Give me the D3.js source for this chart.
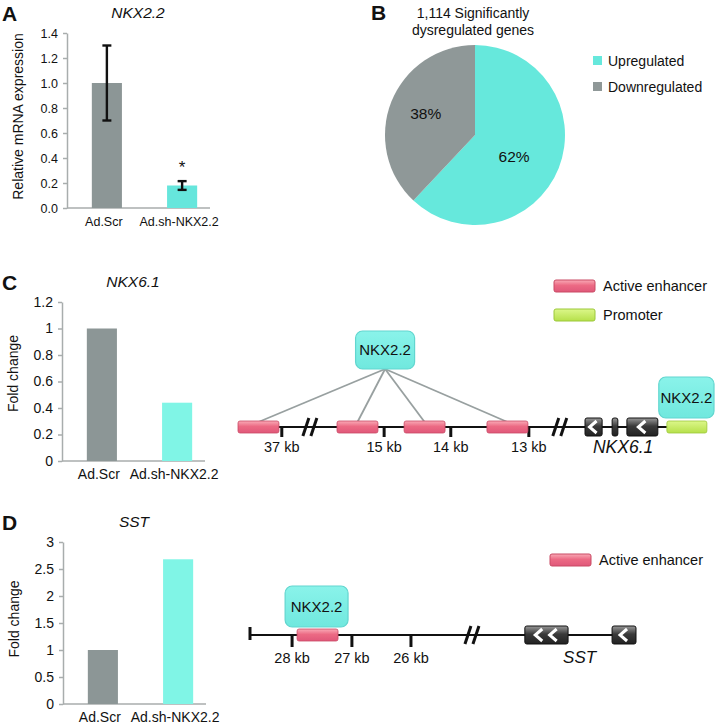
<!DOCTYPE html>
<html>
<head>
<meta charset="utf-8">
<script src="https://cdn.jsdelivr.net/npm/d3@7"></script>
<style>
  body { margin: 0; background: #fff; }
  svg text { font-family: "Liberation Sans", Arial, sans-serif; fill: #111; }
  .panel { font-weight: bold; font-size: 21px; }
</style>
</head>
<body>
<svg id="fig" width="718" height="725"></svg>
<script>
// ---- data ----
var barCats = ["Ad.Scr", "Ad.sh-NKX2.2"];
var aValues = [1.0, 0.18];
var aErrors = [0.30, 0.035];
var aTicks = [0, 0.2, 0.4, 0.6, 0.8, 1.0, 1.2, 1.4];

var pieLabels = ["Upregulated", "Downregulated"];
var pieValues = [62, 38];

var cValues = [1.0, 0.44];
var cTicks = [0, 0.2, 0.4, 0.6, 0.8, 1, 1.2];

var dValues = [1.0, 2.68];
var dTicks = [0, 0.5, 1, 1.5, 2, 2.5, 3];

// schematic track positions (fraction of track length)
var cEnhancers = [0, 0.208, 0.349, 0.523];
var cKbLabels = ["37 kb", "15 kb", "14 kb", "13 kb"];
var cKbTicks = [0.092, 0.307, 0.447, 0.611];
var cBreaks = [0.151, 0.676];
var cExons = [[0.729, 0.765, 1], [0.786, 0.798, 0], [0.817, 0.882, 1]];

var dKbLabels = ["28 kb", "27 kb", "26 kb"];
var dKbTicks = [0.109, 0.264, 0.417];
var dEnhancers = [0.122];
var dBreaks = [0.575];
var dExons = [[0.712, 0.824, 2], [0.938, 1.0, 1]];

var gray = "#8c9696", cyanA = "#66e6dc", cyanB = "#80f5e6";

var svg = d3.select("#fig");
var defs = svg.append("defs");

function grad(id, stops) {
  var g = defs.append("linearGradient").attr("id", id)
    .attr("x1", 0).attr("y1", 0).attr("x2", 0).attr("y2", 1);
  stops.forEach(function(s) {
    g.append("stop").attr("offset", s[0]).attr("stop-color", s[1]);
  });
}
grad("enh", [[0, "#f9aab6"], [0.45, "#ec6a84"], [1, "#e0587a"]]);
grad("exon", [[0, "#9a9a9a"], [0.45, "#3a3a3a"], [1, "#222"]]);
grad("prom", [[0, "#dcf78a"], [1, "#b6e04a"]]);
grad("nkx", [[0, "#8af3ea"], [1, "#70e8de"]]);

// ---- generic bar chart ----
function barChart(opt) {
  var g = svg.append("g");
  var y = d3.scaleLinear().domain(opt.domain).range([opt.y0, opt.y1]);
  var x = d3.scaleBand().domain(barCats).range([opt.x0, opt.x0 + 155])
    .paddingInner(0.6).paddingOuter(0.33);

  var ax = g.append("g").attr("transform", "translate(" + opt.x0 + ",0)")
    .call(d3.axisLeft(y).tickValues(opt.ticks).tickFormat(opt.fmt).tickSize(4).tickSizeOuter(0).tickPadding(5));
  ax.select(".domain").attr("stroke", "#a8adad").attr("stroke-width", 1.5);
  ax.selectAll(".tick line").attr("stroke", "#a8adad").attr("stroke-width", 1.5);
  ax.selectAll(".tick text").style("fill", "#111").style("font-size", opt.fs + "px");

  g.append("line").attr("x1", opt.x0).attr("x2", opt.x0 + 143)
    .attr("y1", y(0)).attr("y2", y(0)).attr("stroke", "#a8adad").attr("stroke-width", 1.5);

  g.selectAll("rect.bar").data(opt.values).enter().append("rect")
    .attr("x", function(d, i) { return x(barCats[i]); })
    .attr("width", x.bandwidth())
    .attr("y", function(d) { return y(d); })
    .attr("height", function(d) { return y(0) - y(d); })
    .attr("fill", function(d, i) { return i === 0 ? gray : opt.cyan; });

  g.selectAll("text.xl").data(barCats).enter().append("text")
    .attr("x", function(d) { return x(d) + x.bandwidth() / 2 - 3; })
    .attr("y", y(0) + 18).attr("text-anchor", "middle").style("font-size", opt.fs + "px")
    .text(function(d) { return d; });

  g.append("text").attr("transform", "translate(" + (opt.x0 - 44) + "," + ((opt.y0 + opt.y1) / 2 - opt.ylift) + ") rotate(-90)")
    .attr("text-anchor", "middle").style("font-size", "14px").text(opt.ylabel);

  g.append("text").attr("x", opt.x0 + 71).attr("y", opt.y1 - 15).attr("text-anchor", "middle")
    .style("font-size", "15.5px").style("font-style", "italic").text(opt.title);

  g.append("text").attr("class", "panel").attr("x", 2).attr("y", opt.y1 - 12).text(opt.letter);

  if (opt.errors) {
    var eg = g.selectAll("g.err").data(opt.values).enter().append("g")
      .attr("stroke", "#111").attr("stroke-width", 2.4);
    eg.append("line")
      .attr("x1", function(d, i) { return x(barCats[i]) + x.bandwidth() / 2; })
      .attr("x2", function(d, i) { return x(barCats[i]) + x.bandwidth() / 2; })
      .attr("y1", function(d, i) { return y(d + opt.errors[i]); })
      .attr("y2", function(d, i) { return y(d - opt.errors[i]); });
    [1, -1].forEach(function(s) {
      eg.append("line")
        .attr("x1", function(d, i) { return x(barCats[i]) + x.bandwidth() / 2 - 4.5; })
        .attr("x2", function(d, i) { return x(barCats[i]) + x.bandwidth() / 2 + 4.5; })
        .attr("y1", function(d, i) { return y(d + s * opt.errors[i]); })
        .attr("y2", function(d, i) { return y(d + s * opt.errors[i]); });
    });
    g.append("text").attr("x", x(barCats[1]) + x.bandwidth() / 2)
      .attr("y", y(opt.values[1] + opt.errors[1]) - 8)
      .attr("text-anchor", "middle").style("font-size", "17px").text("*");
  }
}

barChart({ letter: "A", title: "NKX2.2", ylabel: "Relative mRNA expression", domain: [0, 1.4], ylift: 4, fs: 12.5,
  y0: 208, y1: 33, x0: 67, ticks: aTicks, fmt: d3.format(".1f"), values: aValues, errors: aErrors, cyan: cyanA });
barChart({ letter: "C", title: "NKX6.1", ylabel: "Fold change", domain: [0, 1.2], ylift: 8, fs: 14,
  y0: 461, y1: 302, x0: 62, ticks: cTicks, fmt: function(d) { return String(d); }, values: cValues, cyan: cyanB });
barChart({ letter: "D", title: "SST", ylabel: "Fold change", domain: [0, 3], ylift: 4, fs: 14,
  y0: 704, y1: 542, x0: 63, ticks: dTicks, fmt: function(d) { return String(d); }, values: dValues, cyan: cyanB });

// ---- pie (B) ----
var pg = svg.append("g").attr("transform", "translate(475,135)");
var pie = d3.pie().sort(null)(pieValues);
var arc = d3.arc().innerRadius(0).outerRadius(90);
var labR = [42, 53];
var pieColor = d3.scaleOrdinal().domain(pieLabels).range(["#66e8dc", "#8f9898"]);
pg.selectAll("path").data(pie).enter().append("path").attr("d", arc)
  .attr("fill", function(d, i) { return pieColor(pieLabels[i]); });
pg.selectAll("text").data(pie).enter().append("text")
  .attr("transform", function(d, i) {
    var la = d3.arc().innerRadius(labR[i]).outerRadius(labR[i]);
    return "translate(" + la.centroid(d) + ")";
  })
  .attr("text-anchor", "middle").attr("dy", function(d, i) { return i === 0 ? "0.75em" : "0.2em"; })
  .style("font-size", "15.5px")
  .text(function(d) { return d.value + "%"; });
svg.append("text").attr("class", "panel").attr("x", 371).attr("y", 20).text("B");
svg.append("text").attr("x", 473).attr("y", 18).attr("text-anchor", "middle").style("font-size", "14px").text("1,114 Significantly");
svg.append("text").attr("x", 473).attr("y", 35).attr("text-anchor", "middle").style("font-size", "14px").text("dysregulated genes");
var lg = svg.selectAll("g.pleg").data(pieLabels).enter().append("g")
  .attr("transform", function(d, i) { return "translate(593," + (56 + i * 26) + ")"; });
lg.append("rect").attr("width", 9).attr("height", 9).attr("fill", function(d) { return pieColor(d); });
lg.append("text").attr("x", 15).attr("y", 5).attr("dy", "0.35em").style("font-size", "14px").text(function(d) { return d; });

// ---- gene diagrams ----
function breakMark(g, x, y) {
  [-4, 4].forEach(function(o) {
    g.append("line").attr("x1", x + o - 3).attr("x2", x + o + 3).attr("y1", y + 9).attr("y2", y - 9)
      .attr("stroke", "#111").attr("stroke-width", 3);
  });
}
function enhancer(g, x0, x1, y) {
  g.append("rect").attr("x", x0).attr("y", y - 6).attr("width", x1 - x0).attr("height", 12)
    .attr("rx", 2).attr("fill", "url(#enh)").attr("stroke", "#c94a64").attr("stroke-width", 0.8);
}
function exon(g, x0, x1, y, nChev) {
  g.append("rect").attr("x", x0).attr("y", y - 9).attr("width", x1 - x0).attr("height", 18)
    .attr("rx", 2).attr("fill", "url(#exon)").attr("stroke", "#111").attr("stroke-width", 1);
  var w = x1 - x0;
  for (var k = 0; k < nChev; k++) {
    var cx = x0 + w * (k + 1) / (nChev + 1) - 1;
    g.append("polyline").attr("points", [[cx + 4, y - 6], [cx - 3, y], [cx + 4, y + 6]].join(" "))
      .attr("fill", "none").attr("stroke", "#fff").attr("stroke-width", 3);
  }
}
function nkxBox(g, x0, x1, y0, y1) {
  g.append("rect").attr("x", x0).attr("y", y0).attr("width", x1 - x0).attr("height", y1 - y0)
    .attr("rx", 7).attr("fill", "url(#nkx)").attr("stroke", "#62d6cf").attr("stroke-width", 1.2);
  g.append("text").attr("x", (x0 + x1) / 2).attr("y", (y0 + y1) / 2).attr("dy", "0.35em")
    .attr("text-anchor", "middle").style("font-size", "15px").text("NKX2.2");
}
function legendItem(g, x, y, fill, stroke, label) {
  g.append("rect").attr("x", x).attr("y", y - 6).attr("width", 41).attr("height", 12).attr("rx", 2)
    .attr("fill", fill).attr("stroke", stroke).attr("stroke-width", 1);
  g.append("text").attr("x", x + 49).attr("y", y).attr("dy", "0.35em").style("font-size", "14.5px").text(label);
}

// panel C diagram
var cg = svg.append("g");
var xc = d3.scaleLinear().domain([0, 1]).range([238, 714]);
var yc = 427;
var encW = xc(0.086) - xc(0);
cg.append("line").attr("x1", xc(0)).attr("x2", xc(0.901)).attr("y1", yc).attr("y2", yc).attr("stroke", "#111").attr("stroke-width", 2);
cBreaks.forEach(function(b) { breakMark(cg, xc(b), yc); });
cKbTicks.forEach(function(t, i) {
  cg.append("line").attr("x1", xc(t)).attr("x2", xc(t)).attr("y1", yc).attr("y2", yc + 10).attr("stroke", "#111").attr("stroke-width", 3);
  cg.append("text").attr("x", xc(t)).attr("y", yc + 25).attr("text-anchor", "middle").style("font-size", "14.5px").text(cKbLabels[i]);
});
// connectors from NKX2.2 to enhancers
var hub = [xc(0.309), 369];
cEnhancers.forEach(function(e) {
  cg.append("line").attr("x1", hub[0]).attr("y1", hub[1]).attr("x2", xc(e) + encW / 2).attr("y2", yc - 5)
    .attr("stroke", "#98a0a0").attr("stroke-width", 1.8);
});
cEnhancers.forEach(function(e) { enhancer(cg, xc(e), xc(e) + encW, yc); });
cExons.forEach(function(e) { exon(cg, xc(e[0]), xc(e[1]), yc, e[2]); });
cg.append("rect").attr("x", xc(0.901)).attr("y", yc - 6).attr("width", xc(0.985) - xc(0.901)).attr("height", 12)
  .attr("rx", 2).attr("fill", "url(#prom)").attr("stroke", "#9cc83a").attr("stroke-width", 0.8);
nkxBox(cg, xc(0.247), xc(0.371), 331, 369);
nkxBox(cg, xc(0.884), xc(1.0), 377, 418);
cg.append("text").attr("x", xc(0.809)).attr("y", yc + 26).attr("text-anchor", "middle")
  .style("font-size", "17.5px").style("font-style", "italic").text("NKX6.1");
legendItem(cg, 554, 286, "url(#enh)", "#c94a64", "Active enhancer");
legendItem(cg, 554, 315, "url(#prom)", "#9cc83a", "Promoter");

// panel D diagram
var dg = svg.append("g");
var xd = d3.scaleLinear().domain([0, 1]).range([250, 636]);
var yd = 635;
dg.append("line").attr("x1", xd(0)).attr("x2", xd(0.95)).attr("y1", yd).attr("y2", yd).attr("stroke", "#111").attr("stroke-width", 2);
dg.append("line").attr("x1", xd(0)).attr("x2", xd(0)).attr("y1", yd - 8).attr("y2", yd + 5).attr("stroke", "#111").attr("stroke-width", 3);
dBreaks.forEach(function(b) { breakMark(dg, xd(b), yd); });
dKbTicks.forEach(function(t, i) {
  dg.append("line").attr("x1", xd(t)).attr("x2", xd(t)).attr("y1", yd).attr("y2", yd + 12).attr("stroke", "#111").attr("stroke-width", 3);
  dg.append("text").attr("x", xd(t)).attr("y", yd + 28).attr("text-anchor", "middle").style("font-size", "14.5px").text(dKbLabels[i]);
});
dEnhancers.forEach(function(e) { enhancer(dg, xd(e), xd(e) + encW, yd); });
dExons.forEach(function(e) { exon(dg, xd(e[0]), xd(e[1]), yd, e[2]); });
nkxBox(dg, xd(0.091), xd(0.254), 586, 627);
dg.append("text").attr("x", xd(0.854)).attr("y", yd + 28).attr("text-anchor", "middle")
  .style("font-size", "17px").style("font-style", "italic").text("SST");
legendItem(dg, 550, 560, "url(#enh)", "#c94a64", "Active enhancer");
</script>
</body>
</html>
